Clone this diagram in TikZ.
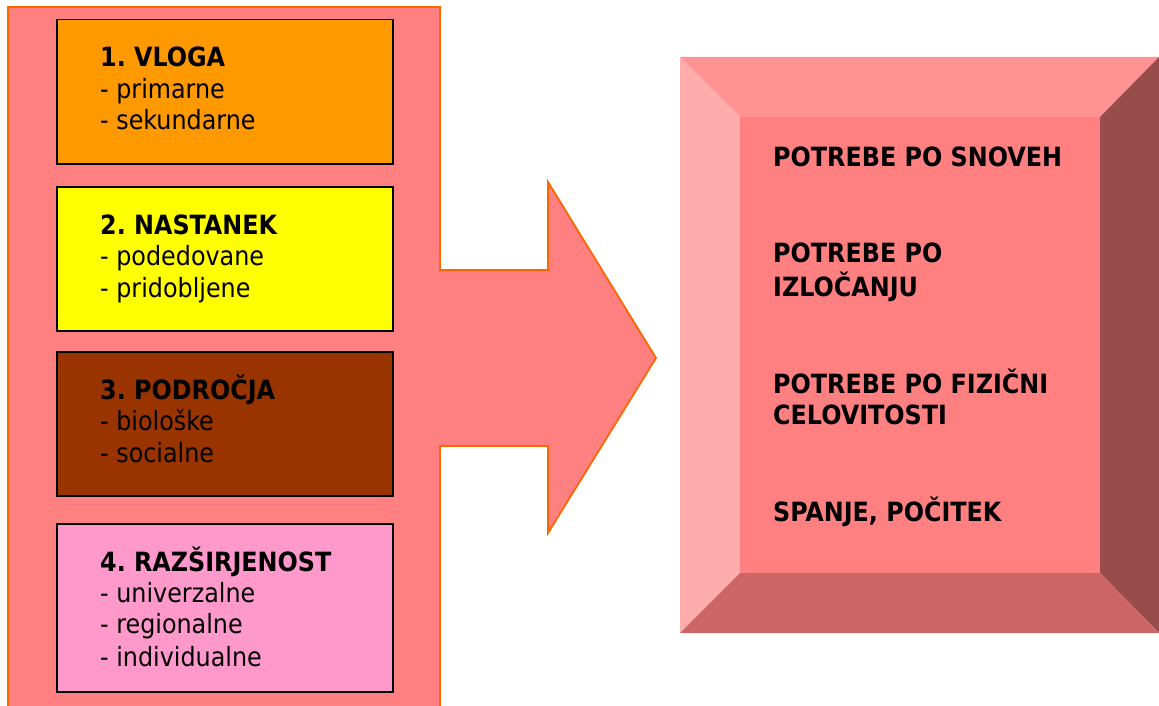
\documentclass[tikz,border=0pt]{standalone}
\usepackage{fontspec}
\setmainfont{DejaVu Sans Condensed}
\frenchspacing
\definecolor{salmon}{RGB}{255,128,128}
\definecolor{edgeorange}{RGB}{255,102,0}
\definecolor{boxorange}{RGB}{255,153,0}
\definecolor{boxyellow}{RGB}{255,255,0}
\definecolor{boxbrown}{RGB}{153,51,0}
\definecolor{boxpink}{RGB}{255,153,204}
\definecolor{bevtop}{RGB}{255,146,146}
\definecolor{bevleft}{RGB}{255,172,172}
\definecolor{bevright}{RGB}{153,76,76}
\definecolor{bevbottom}{RGB}{204,102,102}
\tikzset{
  catbox/.style={draw=black, line width=1.5pt, rectangle, inner sep=0pt,
    minimum width=336pt, anchor=north west},
  txt/.style={anchor=base west, inner sep=0pt, font=\fontsize{26.5}{31}\selectfont},
  head/.style={txt, font=\fontsize{26.5}{31}\selectfont\bfseries},
}
\begin{document}
\begin{tikzpicture}[x=1pt, y=-1pt]
\useasboundingbox (0,0) rectangle (1159,706);

% block arrow behind the categories
\draw[fill=salmon, draw=edgeorange, line width=1.8pt, line join=miter]
  (8,7) -- (440,7) -- (440,270) -- (548,270) -- (548,182) -- (656,358)
  -- (548,533) -- (548,446) -- (440,446) -- (440,720) -- (8,720) -- cycle;

% category boxes
\node[catbox, fill=boxorange, minimum height=144pt] (b1) at (56,19) {};
\node[catbox, fill=boxyellow, minimum height=144pt] (b2) at (56,186) {};
\node[catbox, fill=boxbrown,  minimum height=144pt] (b3) at (56,351) {};
\node[catbox, fill=boxpink,   minimum height=168pt] (b4) at (56,523) {};

\node[head] (t1) at (100,67)  {1. VLOGA};
\node[txt]  (t1a) at (100,99)  {- primarne};
\node[txt]  (t1b) at (100,130) {- sekundarne};

\node[head] (t2) at (100,234) {2. NASTANEK};
\node[txt]  (t2a) at (100,265) {- podedovane};
\node[txt]  (t2b) at (100,297) {- pridobljene};

\node[head] (t3) at (100,399) {3. PODROČJA};
\node[txt]  (t3a) at (100,430) {- biološke};
\node[txt]  (t3b) at (100,462) {- socialne};

\node[head] (t4) at (100,571) {4. RAZŠIRJENOST};
\node[txt]  (t4a) at (100,602) {- univerzalne};
\node[txt]  (t4b) at (100,633) {- regionalne};
\node[txt]  (t4c) at (100,666) {- individualne};

% bevelled panel
\fill[bevtop]    (680,57) -- (1159,57) -- (1100,117) -- (740,117) -- cycle;
\fill[bevleft]   (680,57) -- (740,117) -- (740,573) -- (680,633) -- cycle;
\fill[bevright]  (1159,57) -- (1159,633) -- (1100,573) -- (1100,117) -- cycle;
\fill[bevbottom] (680,633) -- (740,573) -- (1100,573) -- (1159,633) -- cycle;
\node[fill=salmon, inner sep=0pt, minimum width=360pt, minimum height=456pt,
  anchor=north west] (panel) at (740,117) {};

\node[head] (n1)  at (773,167) {POTREBE PO SNOVEH};
\node[head] (n2)  at (773,262) {POTREBE PO};
\node[head] (n2b) at (773,296) {IZLOČANJU};
\node[head] (n3)  at (773,393) {POTREBE PO FIZIČNI};
\node[head] (n3b) at (773,424) {CELOVITOSTI};
\node[head] (n4)  at (773,521) {SPANJE, POČITEK};
\end{tikzpicture}
\end{document}
